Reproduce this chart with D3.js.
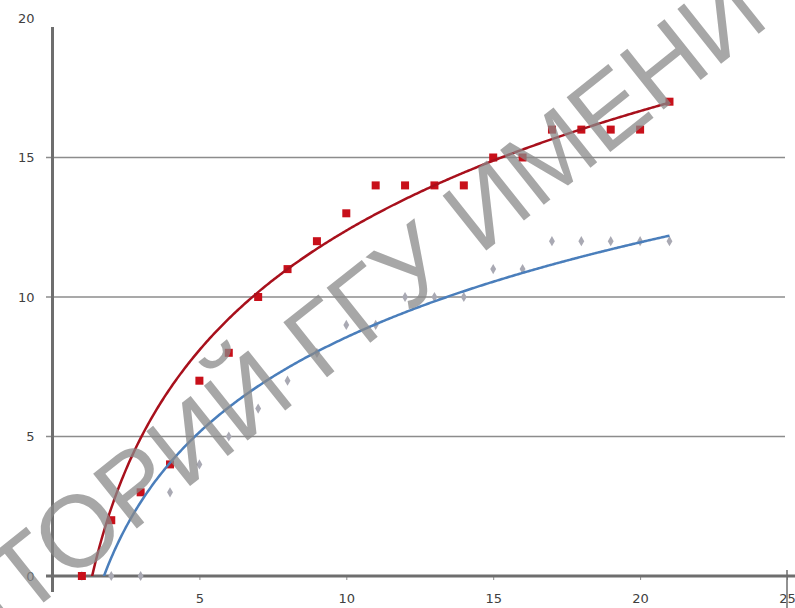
<!DOCTYPE html>
<html>
<head>
<meta charset="utf-8">
<script src="https://cdn.jsdelivr.net/npm/d3@7"></script>
<style>
  html, body { margin: 0; padding: 0; background: #fff; }
  svg { display: block; }
</style>
</head>
<body>
<div id="chart"></div>
<script>
// data
const xValues = [1, 2, 3, 4, 5, 6, 7, 8, 9, 10, 11, 12, 13, 14, 15, 16, 17, 18, 19, 20, 21];
const redValues = [0, 2, 3, 4, 7, 8, 10, 11, 12, 13, 14, 14, 14, 14, 15, 15, 16, 16, 16, 16, 17];
const grayValues = [0, 0, 0, 3, 4, 5, 6, 7, 8, 9, 9, 10, 10, 10, 11, 11, 12, 12, 12, 12, 12];
// log trendlines y = a*ln(x) + b, as drawn in the picture
const redTrend = [6.18, -1.85];
const blueTrend = [4.91, -2.75];
const xTicks = [5, 10, 15, 20, 25];
const yTicks = [0, 5, 10, 15, 20];
const gridTicks = [5, 10, 15];
const watermarkHead = 'РЕПОЗИ';
const watermarkTail = 'ТОРИЙ ГГУ ИМЕНИ Ф. СКОРИНЫ';

const width = 795, height = 608;

const svg = d3.select('#chart').append('svg')
  .attr('width', width)
  .attr('height', height);

const x = d3.scaleLinear().domain([0, 25]).range([52.5, 787]);
const y = d3.scaleLinear().domain([0, 20]).range([576, 18]);

const labelColor = '#404040';
const font = 'Verdana, "DejaVu Sans", sans-serif';

// gridlines
svg.append('g')
  .selectAll('line')
  .data(gridTicks)
  .join('line')
  .attr('x1', 46).attr('x2', 785)
  .attr('y1', d => y(d)).attr('y2', d => y(d))
  .attr('stroke', '#8c8c8c')
  .attr('stroke-width', 1.5);

// x axis
const xAxis = svg.append('g')
  .attr('transform', `translate(0,${y(0)})`)
  .call(d3.axisBottom(x).tickValues(xTicks).tickSize(4).tickPadding(14).tickSizeOuter(0));
xAxis.select('.domain').remove();
xAxis.selectAll('.tick line').attr('stroke', '#8c8c8c');
xAxis.selectAll('.tick text')
  .style('font-family', font).style('font-size', '13px').attr('fill', labelColor);
svg.append('line')
  .attr('x1', 46).attr('x2', width)
  .attr('y1', y(0)).attr('y2', y(0))
  .attr('stroke', '#6e6e6e').attr('stroke-width', 3);
svg.append('line')
  .attr('x1', x(25)).attr('x2', x(25))
  .attr('y1', y(0) - 6).attr('y2', height)
  .attr('stroke', '#6e6e6e').attr('stroke-width', 1.5);

// y axis
const yAxis = svg.append('g')
  .attr('transform', `translate(${x(0)},0)`)
  .call(d3.axisLeft(y).tickValues(yTicks).tickSize(0).tickPadding(18));
yAxis.select('.domain').remove();
yAxis.selectAll('.tick text')
  .style('font-family', font).style('font-size', '13px').attr('fill', labelColor);
svg.append('line')
  .attr('x1', x(0)).attr('x2', x(0))
  .attr('y1', 27).attr('y2', 592)
  .attr('stroke', '#6e6e6e').attr('stroke-width', 3);

svg.append('clipPath').attr('id', 'plot')
  .append('rect')
  .attr('x', x(0)).attr('y', 0)
  .attr('width', width - x(0)).attr('height', y(0));

const samples = d3.range(1, 21.001, 0.05);
const line = d3.line().x(d => x(d[0])).y(d => y(d[1]));

function trend([a, b], color) {
  svg.append('path')
    .datum(samples.map(s => [s, a * Math.log(s) + b]))
    .attr('clip-path', 'url(#plot)')
    .attr('fill', 'none')
    .attr('stroke', color)
    .attr('stroke-width', 2.5)
    .attr('d', line);
}

// gray diamonds
svg.append('g')
  .selectAll('path')
  .data(xValues.map((v, i) => [v, grayValues[i]]))
  .join('path')
  .attr('transform', d => `translate(${x(d[0])},${y(d[1])})`)
  .attr('d', d3.symbol(d3.symbolDiamond, 30))
  .attr('fill', '#a9a9b3');

// red squares
svg.append('g')
  .selectAll('rect')
  .data(xValues.map((v, i) => [v, redValues[i]]))
  .join('rect')
  .attr('x', d => x(d[0]) - 4).attr('y', d => y(d[1]) - 4)
  .attr('width', 8).attr('height', 8)
  .attr('fill', '#c8101a');

trend(blueTrend, '#4a7ebb');
trend(redTrend, '#a8101c');

// watermark
const wm = svg.append('g')
  .attr('transform', 'translate(23,619) rotate(-38.5)')
  .attr('fill', '#8a8a8a')
  .attr('fill-opacity', 0.75)
  .style('font-family', '"Liberation Sans", Arial, sans-serif')
  .style('font-size', '102px');
wm.append('text').attr('text-anchor', 'end').text(watermarkHead);
wm.append('text').attr('text-anchor', 'start').text(watermarkTail);
</script>
</body>
</html>
